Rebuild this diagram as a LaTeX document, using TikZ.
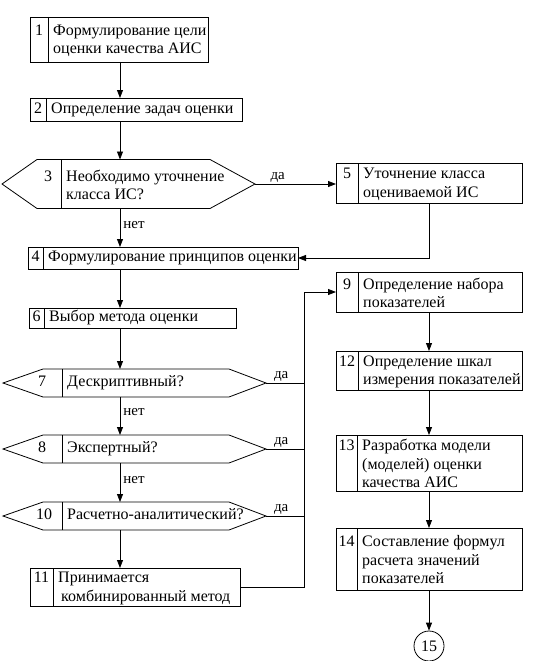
\documentclass[tikz,border=0pt]{standalone}
\usepackage{fontspec}
\setmainfont{Liberation Serif}
\newfontfamily\diagfont{Liberation Serif}
\usetikzlibrary{arrows.meta}

\begin{document}
\begin{tikzpicture}
[x=1pt,y=-1pt,
  boxDecorate/.style={shape=rectangle,draw,line width=0.8pt,inner sep=0pt,outer sep=0pt,anchor=north west},
  hexDecorate/.style={shape=rectangle,inner sep=0pt,outer sep=0pt,anchor=west},
  textDecorate/.style={anchor=west,align=left,inner sep=0pt,font=\diagfont\fontsize{16}{18.5}\selectfont},
  numDecorate/.style={inner sep=0pt,anchor=north,font=\diagfont\fontsize{16}{18.5}\selectfont},
  lineDecorate/.style={line width=0.8pt},
  arrowDecorate/.style={line width=0.8pt,-{Triangle[length=8pt,width=6pt]}},
  labelDecorate/.style={inner sep=1pt,font=\diagfont\fontsize{15}{17}\selectfont}]
\useasboundingbox (0,0) rectangle (534,661);
%% blocks
\foreach \nodename/\num/\x/\y/\w/\h/\d/\txt in {
  b1/1/30/17/178/45/18/{Формулирование цели\\оценки качества АИС},
  b2/2/30/98/212/23/16/{Определение задач оценки},
  b5/5/336/163/186/40/22/{Уточнение класса\\оцениваемой ИС},
  b4/4/28/247/270/22/15/{Формулирование принципов оценки},
  b6/6/29/308/207/20/15/{Выбор метода оценки},
  b9/9/336/272/186/40/22/{Определение набора\\показателей},
  b12/12/336/351/186/39/22/{Определение шкал\\измерения показателей},
  b13/13/336/435/186/56/21/{Разработка модели\\(моделей) оценки\\качества АИС},
  b14/14/336/528/186/62/21/{Составление формул\\расчета значений\\показателей},
  b11/11/30/568/210/38/23/{Принимается\\\hspace*{3pt}комбинированный метод}}
{
  \node (\nodename) at (\x,\y) [boxDecorate,minimum width=\w pt,minimum height=\h pt] {};
  \draw[lineDecorate] ([xshift=\d pt]\nodename.north west) -- ([xshift=\d pt]\nodename.south west);
  \coordinate (\nodename-c) at ([xshift=0.5*\d pt]\nodename.west);
  \node (\nodename-t) at ([xshift=\d pt+5pt]\nodename.west) [textDecorate] {\strut\txt};
  \node (\nodename-n) at (\nodename-c |- \nodename-t.north) [numDecorate] {\strut\num};
}
%% decisions
\foreach \nodename/\num/\x/\y/\w/\h/\l/\r/\nx/\txt in {
  d3/3/2/184/253/49/35/45/48/{Необходимо уточнение\\класса ИС?},
  d7/7/3/383/263/28/40/37/42/{Дескриптивный?},
  d8/8/3/449/263/28/40/37/42/{Экспертный?},
  d10/10/3/516/263/28/40/37/44/{Расчетно-аналитический?}}
{
  \node (\nodename) at (\x,\y) [hexDecorate,minimum width=\w pt,minimum height=\h pt] {};
  \draw[lineDecorate] (\nodename.west) -- ([xshift=\l pt]\nodename.north west)
    -- ([xshift=-\r pt]\nodename.north east) -- (\nodename.east)
    -- ([xshift=-\r pt]\nodename.south east) -- ([xshift=\l pt]\nodename.south west) -- cycle;
  \draw[lineDecorate] ([xshift=59pt]\nodename.north west) -- ([xshift=59pt]\nodename.south west);
  \coordinate (\nodename-c) at ([xshift=\nx pt-\x pt]\nodename.west);
  \node (\nodename-t) at ([xshift=64pt]\nodename.west) [textDecorate] {\strut\txt};
  \node (\nodename-n) at (\nodename-c |- \nodename-t.north) [numDecorate] {\strut\num};
}
\node (c15) at (429,646) [shape=circle,draw,line width=0.8pt,minimum size=30pt,inner sep=0pt,numDecorate,anchor=center] {15};
%% links
\coordinate (spine) at (120,0);
\coordinate (bus) at (304,292);
\draw[arrowDecorate] (b1.south -| spine) -- (b2.north -| spine);
\draw[arrowDecorate] (b2.south -| spine) -- (d3.north -| spine);
\draw[arrowDecorate] (d3.south -| spine) -- node[labelDecorate,anchor=west,pos=0.42,xshift=2pt] {нет} (b4.north -| spine);
\draw[arrowDecorate] (b4.south -| spine) -- (b6.north -| spine);
\draw[arrowDecorate] (b6.south -| spine) -- (d7.north -| spine);
\draw[arrowDecorate] (d7.south -| spine) -- node[labelDecorate,anchor=west,pos=0.4,xshift=2pt] {нет} (d8.north -| spine);
\draw[arrowDecorate] (d8.south -| spine) -- node[labelDecorate,anchor=west,pos=0.44,xshift=2pt] {нет} (d10.north -| spine);
\draw[arrowDecorate] (d10.south -| spine) -- (b11.north -| spine);
\draw[arrowDecorate] (d3.east) -- node[labelDecorate,anchor=south,pos=0.28] {да} (d3.east -| b5.west);
\draw[arrowDecorate] (b5.south) |- (b4.east);
\draw[lineDecorate] (d7.east) -- node[labelDecorate,anchor=south,pos=0.4] {да} (d7.east -| bus);
\draw[lineDecorate] (d8.east) -- node[labelDecorate,anchor=south,pos=0.4] {да} (d8.east -| bus);
\draw[lineDecorate] (d10.east) -- node[labelDecorate,anchor=south,pos=0.4] {да} (d10.east -| bus);
\draw[arrowDecorate] (b11.east) -| (bus) -- (b9.west);
\draw[arrowDecorate] (b9.south) -- (b12.north);
\draw[arrowDecorate] (b12.south) -- (b13.north);
\draw[arrowDecorate] (b13.south) -- (b14.north);
\draw[arrowDecorate] (b14.south) -- (c15.north);
\end{tikzpicture}
\end{document}
